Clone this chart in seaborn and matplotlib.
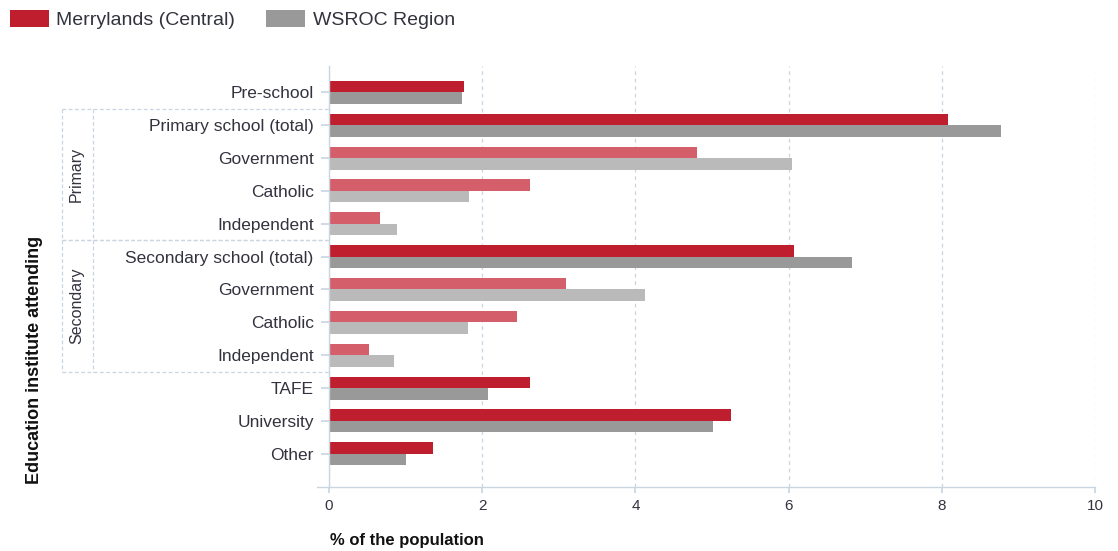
import matplotlib
matplotlib.use("Agg")
import matplotlib.pyplot as plt
import matplotlib.transforms as mtransforms
from matplotlib.patches import Patch
from matplotlib.lines import Line2D
import numpy as np
import pandas as pd
import seaborn as sns

# ---- data -------------------------------------------------------------
keys = ["Pre-school", "Primary total", "Primary government", "Primary catholic",
        "Primary independent", "Secondary total", "Secondary government",
        "Secondary catholic", "Secondary independent", "TAFE", "University", "Other"]
tick_labels = ["Pre-school", "Primary school (total)", "Government", "Catholic",
               "Independent", "Secondary school (total)", "Government", "Catholic",
               "Independent", "TAFE", "University", "Other"]
is_sub = [False, False, True, True, True, False, True, True, True, False, False, False]
merrylands = [1.76, 8.08, 4.80, 2.62, 0.67, 6.07, 3.10, 2.45, 0.52, 2.62, 5.25, 1.36]
wsroc = [1.73, 8.77, 6.04, 1.83, 0.89, 6.83, 4.13, 1.81, 0.85, 2.07, 5.01, 1.00]
series_names = ["Merrylands (Central)", "WSROC Region"]
x_ticks = [0, 2, 4, 6, 8, 10]
group_names = ["Primary", "Secondary"]
group_spans = [(0.5, 4.5), (4.5, 8.5)]

# ---- styling -----------------------------------------------------------
RED = "#BE1E2D"
RED_LIGHT = "#D45E6A"
GREY = "#999999"
GREY_LIGHT = "#BABABA"
TEXT = "#33333f"
GRID = "#C9D6E2"

sns.set_theme(style="white")
plt.rcParams["font.family"] = ["Liberation Sans", "DejaVu Sans"]

df = pd.DataFrame({
    "key": keys * 2,
    "value": merrylands + wsroc,
    "series": [series_names[0]] * len(keys) + [series_names[1]] * len(keys),
})

fig = plt.figure(figsize=(11.18, 5.51), dpi=100)
ax = fig.add_axes([329 / 1118, 1 - 486.7 / 551, 766 / 1118, 420.7 / 551])

sns.barplot(data=df, y="key", x="value", hue="series", order=keys,
            hue_order=series_names, palette=[RED, GREY], orient="h",
            width=0.7, gap=0, ax=ax, legend=False, linewidth=0, saturation=1)

# lighter shades for the school-sector breakdown rows
for container, (dark, light) in zip(ax.containers, [(RED, RED_LIGHT), (GREY, GREY_LIGHT)]):
    for bar, sub in zip(container, is_sub):
        bar.set_facecolor(light if sub else dark)
        bar.set_edgecolor("none")

ax.set_xlim(0, 10)
ax.set_ylim(12.0, -0.8)
ax.set_xticks(x_ticks)
ax.set_xticklabels([str(t) for t in x_ticks])
ax.set_yticks(range(len(keys)))
ax.set_yticklabels(tick_labels)
ax.set_xlabel("")
ax.set_ylabel("")

ax.xaxis.grid(True, color=GRID, linestyle=(0, (3, 3)), linewidth=0.9)
ax.yaxis.grid(False)
ax.set_axisbelow(True)

for side in ["top", "right"]:
    ax.spines[side].set_visible(False)
ax.spines["left"].set_color(GRID)
ax.spines["bottom"].set_color(GRID)
ax.spines["left"].set_linewidth(1.0)
ax.spines["bottom"].set_linewidth(1.0)

ax.tick_params(axis="y", length=6, color=GRID, pad=5, labelsize=12.5, labelcolor=TEXT, left=True)
ax.tick_params(axis="x", length=4, color=GRID, pad=5, labelsize=11, labelcolor=TEXT, bottom=True)

# bottom axis line runs a little past the y axis
ax.add_line(Line2D([-0.016, 0], [0, 0], transform=ax.transAxes, color=GRID,
                   linewidth=1.0, clip_on=False))

# dashed brackets grouping the primary / secondary breakdown rows
trans = mtransforms.blended_transform_factory(ax.transAxes, ax.transData)
x_outer, x_inner = (61.7 - 329) / 766, (93.3 - 329) / 766
dash = dict(transform=trans, color=GRID, linestyle=(0, (3, 2)), linewidth=0.9, clip_on=False)
for (y0, y1), name in zip(group_spans, group_names):
    ax.add_line(Line2D([x_outer, 0], [y0, y0], **dash))
    ax.add_line(Line2D([x_outer, 0], [y1, y1], **dash))
    ax.add_line(Line2D([x_outer, x_outer], [y0, y1], **dash))
    ax.add_line(Line2D([x_inner, x_inner], [y0, y1], **dash))
    ax.text((76.7 - 329) / 766, (y0 + y1) / 2, name, transform=trans, rotation=90,
            ha="center", va="center", fontsize=11.5, color=TEXT)

fig.text(35 / 1118, 1 - 360 / 551, "Education institute attending", rotation=90,
         ha="center", va="center", fontsize=13, fontweight="bold", color="#111111")
fig.text(330 / 1118, 1 - 540 / 551, "% of the population", ha="left", va="center",
         fontsize=12, fontweight="bold", color="#111111")

handles = [Patch(facecolor=RED, edgecolor="none"), Patch(facecolor=GREY, edgecolor="none")]
fig.legend(handles, series_names, loc="upper left", bbox_to_anchor=(2 / 1118, 1 - 2 / 551),
           ncol=2, frameon=False, fontsize=14, handlelength=2.0, handleheight=1.0,
           handletextpad=0.4, columnspacing=1.6, labelcolor=TEXT, borderaxespad=0)

fig.savefig("out.png", dpi=100)
